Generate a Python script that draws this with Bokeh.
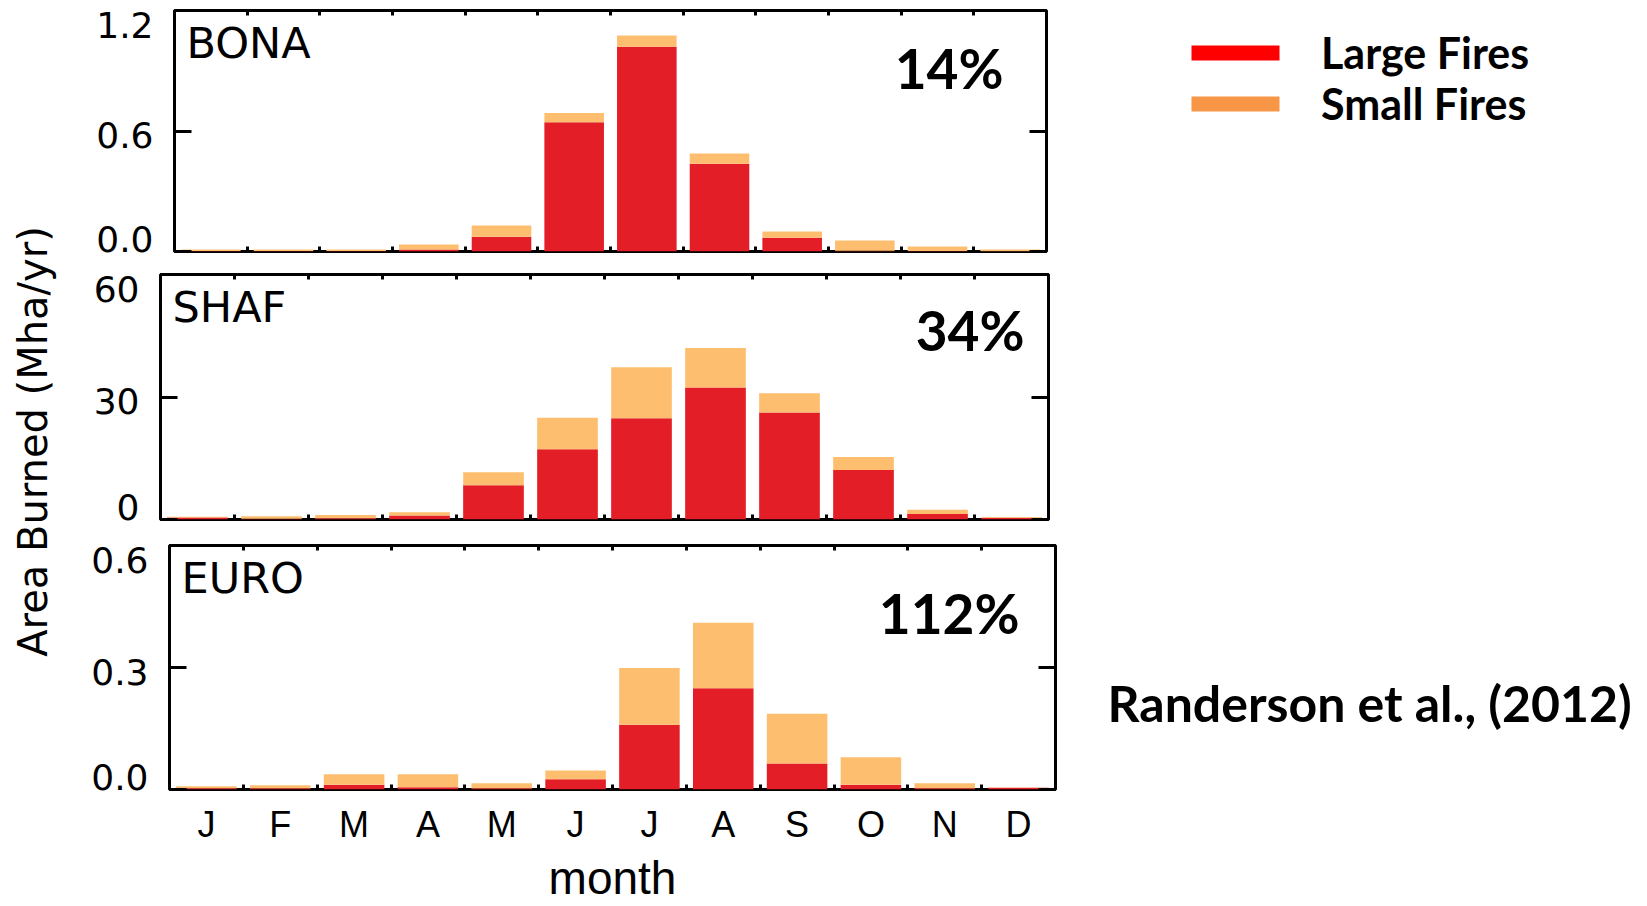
from bokeh.plotting import figure
from bokeh.layouts import row, column
from bokeh.models import (Range1d, FixedTicker, LinearAxis, Label, Legend,
                          LegendItem, ColumnDataSource, Spacer)
from bokeh.embed import file_html
from bokeh.resources import INLINE
from math import pi

# ---- data -----------------------------------------------------------------
months = ["J", "F", "M", "A", "M", "J", "J", "A", "S", "O", "N", "D"]

# Boreal North America (Mha/yr)
bona_large = [0.002, 0.002, 0.002, 0.010, 0.073, 0.643, 1.020, 0.437, 0.068, 0.004, 0.002, 0.001]
bona_small = [0.008, 0.008, 0.008, 0.025, 0.057, 0.047, 0.055, 0.051, 0.032, 0.051, 0.023, 0.009]

# Southern Hemisphere Africa (Mha/yr)
shaf_large = [0.5, 0.2, 0.3, 1.0, 8.4, 17.2, 24.8, 32.3, 26.2, 12.1, 1.35, 0.45]
shaf_small = [0.2, 0.6, 0.8, 0.8, 3.2, 7.7, 12.5, 9.7, 4.7, 3.2, 1.05, 0.15]

# Europe (Mha/yr)
euro_large = [0.003, 0.003, 0.0115, 0.0057, 0.003, 0.025, 0.159, 0.249, 0.064, 0.0115, 0.003, 0.004]
euro_small = [0.005, 0.0075, 0.026, 0.032, 0.0125, 0.022, 0.140, 0.161, 0.122, 0.0675, 0.0125, 0.001]

bona_ticks, bona_tick_labels = [0.0, 0.6, 1.2], ["0.0", "0.6", "1.2"]
shaf_ticks, shaf_tick_labels = [0, 30, 60], ["0", "30", "60"]
euro_ticks, euro_tick_labels = [0.0, 0.3, 0.6], ["0.0", "0.3", "0.6"]

regions = ["BONA", "SHAF", "EURO"]
small_fire_share = ["14%", "34%", "112%"]

# ---- styling --------------------------------------------------------------
LARGE_COLOR = "#E31E26"
SMALL_COLOR = "#FDBF6F"
TICK_FONT = "DejaVu Sans"
MONTH_FONT = "Liberation Sans"
NOTE_FONT = "Lato"

centers = [i + 0.5 for i in range(12)]
bounds = list(range(1, 12))
# tick-label nudges in pixels (up is positive): end labels are pulled inside the frame
label_nudge_px = [13, -4, -14]


def tick_only_axis(ticks, length):
    # inward tick marks with no labels
    return LinearAxis(ticker=FixedTicker(ticks=[], minor_ticks=ticks),
                      axis_line_color=None, major_tick_out=0, major_tick_in=0,
                      major_label_standoff=0,
                      minor_tick_in=length, minor_tick_out=0,
                      minor_tick_line_width=3, minor_tick_line_color="black")


def panel(name, large, small, ymax, yticks, ylabels, pct, pct_dx, pct_dy,
          size, borders, bottom=False):
    w, h = size
    left, right, top, bot = borders
    frame_h = h - top - bot
    p = figure(width=w, height=h,
               x_range=Range1d(0, 12), y_range=Range1d(0, ymax),
               x_axis_location=None, y_axis_location=None,
               min_border_left=left, min_border_right=right,
               min_border_top=top, min_border_bottom=bot,
               output_backend="svg", toolbar_location=None)
    p.grid.visible = False
    p.outline_line_color = "black"
    p.outline_line_width = 3
    p.background_fill_color = "white"
    p.border_fill_color = "white"

    total = [a + b for a, b in zip(large, small)]
    src = ColumnDataSource(dict(x=centers, large=large, total=total))
    p.vbar(x="x", width=0.82, bottom=0, top="large", source=src,
           fill_color=LARGE_COLOR, line_color=None)
    p.vbar(x="x", width=0.82, bottom="large", top="total", source=src,
           fill_color=SMALL_COLOR, line_color=None)

    # month axis: labels at slot centres, short inward ticks at the slot edges
    if bottom:
        xb = LinearAxis(ticker=FixedTicker(ticks=centers, minor_ticks=bounds),
                        major_tick_line_color=None, major_tick_out=0, major_tick_in=0,
                        axis_line_color=None,
                        minor_tick_in=5, minor_tick_out=0,
                        minor_tick_line_width=3, minor_tick_line_color="black",
                        major_label_overrides={c: m for c, m in zip(centers, months)},
                        major_label_text_font=MONTH_FONT,
                        major_label_text_font_size="36px",
                        major_label_text_color="black",
                        major_label_standoff=14,
                        axis_label="month",
                        axis_label_text_font=MONTH_FONT,
                        axis_label_text_font_size="46px",
                        axis_label_text_font_style="normal",
                        axis_label_text_color="black",
                        axis_label_standoff=4)
    else:
        xb = tick_only_axis(bounds, 5)
    p.add_layout(xb, "below")
    p.add_layout(tick_only_axis(bounds, 5), "above")

    # value axis: tick marks at the true values, labels nudged toward the frame centre
    per_px = ymax / frame_h
    label_pos = [v + d * per_px for v, d in zip(yticks, label_nudge_px)]
    yl = LinearAxis(ticker=FixedTicker(ticks=label_pos, minor_ticks=yticks),
                    axis_line_color=None, major_tick_line_color=None,
                    minor_tick_in=17, minor_tick_out=0, minor_tick_line_width=3,
                    minor_tick_line_color="black",
                    major_label_overrides=dict(zip(label_pos, ylabels)),
                    major_label_text_font=TICK_FONT,
                    major_label_text_font_size="36px",
                    major_label_text_color="black",
                    major_label_standoff=15)
    p.add_layout(yl, "left")
    p.add_layout(tick_only_axis(yticks, 17), "right")

    p.add_layout(Label(x=0, y=ymax, x_offset=12, y_offset=-32, text=name,
                       text_baseline="alphabetic", text_font=TICK_FONT,
                       text_font_size="43px", text_color="black"))
    p.add_layout(Label(x=12, y=ymax, x_offset=-pct_dx, y_offset=-pct_dy, text=pct,
                       text_align="right", text_baseline="alphabetic",
                       text_font=NOTE_FONT, text_font_style="bold",
                       text_font_size="55px", text_color="black"))
    return p


f1 = panel(regions[0], bona_large, bona_small, 1.2, bona_ticks, bona_tick_labels,
           small_fire_share[0], 43, 57, (986, 262), (90, 24, 10, 11))
f2 = panel(regions[1], shaf_large, shaf_small, 60, shaf_ticks, shaf_tick_labels,
           small_fire_share[1], 24, 55, (1000, 270), (90, 22, 12, 13))
f3 = panel(regions[2], euro_large, euro_small, 0.6, euro_ticks, euro_tick_labels,
           small_fire_share[2], 36, 67, (991, 374), (90, 15, 13, 117), bottom=True)

panels = column(row(Spacer(width=14, height=262), f1),
                f2,
                row(Spacer(width=9, height=374), f3))

# shared y title column
ytitle = figure(width=70, height=906, x_range=Range1d(0, 70), y_range=Range1d(0, 906),
                x_axis_location=None, y_axis_location=None, min_border=0,
                output_backend="svg", toolbar_location=None)
ytitle.outline_line_color = None
ytitle.grid.visible = False
ytitle.add_layout(Label(x=32, y=465, angle=pi / 2, text="Area Burned (Mha/yr)",
                        text_align="center", text_baseline="alphabetic",
                        text_font=TICK_FONT, text_font_size="40px", text_color="black"))

# key and reference column
side = figure(width=577, height=906, x_range=Range1d(0, 577), y_range=Range1d(0, 906),
              x_axis_location=None, y_axis_location=None, min_border=0,
              output_backend="svg", toolbar_location=None)
side.outline_line_color = None
side.grid.visible = False
nan = float("nan")
swatch = ColumnDataSource(dict(x=[nan], top=[nan]))
r_large = side.vbar(x="x", top="top", width=1, source=swatch,
                    fill_color="#FF0000", line_color=None)
r_small = side.vbar(x="x", top="top", width=1, source=swatch,
                    fill_color="#F79646", line_color=None)
key = Legend(items=[LegendItem(label="Large Fires", renderers=[r_large]),
                    LegendItem(label="Small Fires", renderers=[r_small])],
             location=(110, 777), glyph_width=110, glyph_height=19,
             label_standoff=31, spacing=0, padding=0, margin=0,
             label_height=51, border_line_color=None, background_fill_alpha=0,
             label_text_font=NOTE_FONT, label_text_font_style="bold",
             label_text_font_size="43px", label_text_color="black")
side.add_layout(key)
side.add_layout(Label(x=37, y=204, text="Randerson et al., (2012)",
                      text_baseline="alphabetic", text_font=NOTE_FONT,
                      text_font_style="bold", text_font_size="50px",
                      text_color="black"))

layout = row(ytitle, panels, side)

open("out.html", "w").write(file_html(layout, INLINE))
